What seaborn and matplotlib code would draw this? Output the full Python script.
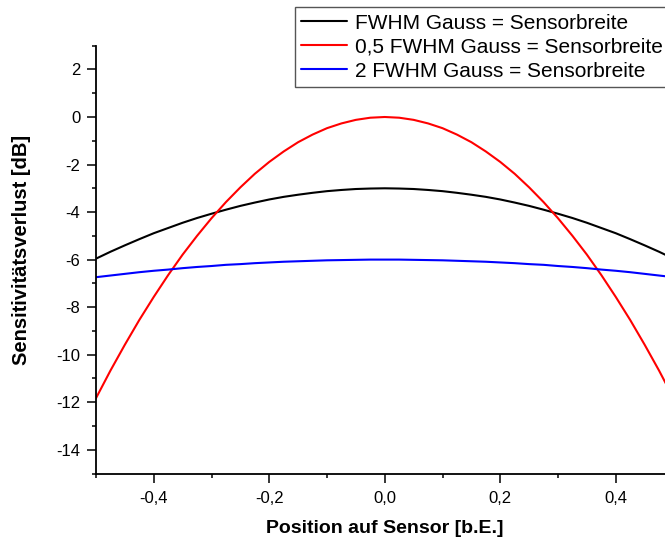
import numpy as np
import pandas as pd
import matplotlib
matplotlib.use("Agg")
import matplotlib.pyplot as plt
from matplotlib.ticker import FixedLocator, MultipleLocator
from matplotlib.lines import Line2D
import seaborn as sns

# ---- data ----
position = [-0.500, -0.475, -0.450, -0.425, -0.400, -0.375, -0.350, -0.325, -0.300, -0.275,
            -0.250, -0.225, -0.200, -0.175, -0.150, -0.125, -0.100, -0.075, -0.050, -0.025,
            0.000,
            0.025, 0.050, 0.075, 0.100, 0.125, 0.150, 0.175, 0.200, 0.225, 0.250,
            0.275, 0.300, 0.325, 0.350, 0.375, 0.400, 0.425, 0.450, 0.475, 0.500]
fwhm_1 = [-5.96, -5.67, -5.40, -5.14, -4.89, -4.67, -4.45, -4.25, -4.07, -3.90,
          -3.74, -3.60, -3.47, -3.36, -3.27, -3.19, -3.12, -3.07, -3.03, -3.01,
          -3.00,
          -3.01, -3.03, -3.07, -3.12, -3.19, -3.27, -3.36, -3.47, -3.60, -3.74,
          -3.90, -4.07, -4.25, -4.45, -4.67, -4.89, -5.14, -5.40, -5.67, -5.96]
fwhm_05 = [-11.83, -10.67, -9.58, -8.54, -7.57, -6.65, -5.79, -5.00, -4.26, -3.58,
           -2.96, -2.39, -1.89, -1.45, -1.06, -0.74, -0.47, -0.27, -0.12, -0.03,
           0.00,
           -0.03, -0.12, -0.27, -0.47, -0.74, -1.06, -1.45, -1.89, -2.39, -2.96,
           -3.58, -4.26, -5.00, -5.79, -6.65, -7.57, -8.54, -9.58, -10.67, -11.83]
fwhm_2 = [-6.74, -6.67, -6.60, -6.53, -6.47, -6.42, -6.36, -6.31, -6.27, -6.22,
          -6.19, -6.15, -6.12, -6.09, -6.07, -6.05, -6.03, -6.02, -6.01, -6.00,
          -6.00,
          -6.00, -6.01, -6.02, -6.03, -6.05, -6.07, -6.09, -6.12, -6.15, -6.19,
          -6.22, -6.27, -6.31, -6.36, -6.42, -6.47, -6.53, -6.60, -6.67, -6.74]
series_names = ["FWHM Gauss = Sensorbreite",
                "0,5 FWHM Gauss = Sensorbreite",
                "2 FWHM Gauss = Sensorbreite"]
series_colors = ["#000000", "#ff0000", "#0000ff"]

xticks = [-0.4, -0.2, 0.0, 0.2, 0.4]
xticklabels = ["-0,4", "-0,2", "0,0", "0,2", "0,4"]
yticks = [-14, -12, -10, -8, -6, -4, -2, 0, 2]
yticklabels = ["-14", "-12", "-10", "-8", "-6", "-4", "-2", "0", "2"]

xlabel = "Position auf Sensor [b.E.]"
ylabel = "Sensitivitätsverlust [dB]"

# ---- build long table ----
frames = []
for name, vals in zip(series_names, [fwhm_1, fwhm_05, fwhm_2]):
    frames.append(pd.DataFrame({"x": position, "y": vals, "series": name}))
df = pd.concat(frames, ignore_index=True)

sns.set_style("ticks")
plt.rcParams["font.family"] = ["Liberation Sans", "DejaVu Sans"]
plt.rcParams["axes.unicode_minus"] = False
plt.rcParams["text.color"] = "black"
plt.rcParams["axes.labelcolor"] = "black"
plt.rcParams["xtick.color"] = "black"
plt.rcParams["ytick.color"] = "black"

W, H = 665, 537
fig = plt.figure(figsize=(W / 100, H / 100), dpi=100)
left, right_px, top, bottom = 96, 96 + 577.5, 45.7, 473.5
ax = fig.add_axes([left / W, (H - bottom) / H, (right_px - left) / W, (bottom - top) / H])

sns.lineplot(data=df, x="x", y="y", hue="series", hue_order=series_names,
             palette=dict(zip(series_names, series_colors)), linewidth=1.5,
             ax=ax, legend=False, sort=True)

ax.set_xlim(-0.5, 0.5)
ax.set_ylim(-15, 3)
ax.xaxis.set_major_locator(FixedLocator(xticks))
ax.set_xticklabels(xticklabels)
ax.yaxis.set_major_locator(FixedLocator(yticks))
ax.set_yticklabels(yticklabels)
ax.xaxis.set_minor_locator(MultipleLocator(0.1))
ax.yaxis.set_minor_locator(MultipleLocator(1))

for s in ["top", "right"]:
    ax.spines[s].set_visible(False)
for s in ["left", "bottom"]:
    ax.spines[s].set_linewidth(1.3)
    ax.spines[s].set_color("black")

ax.tick_params(which="major", direction="out", length=6.3, width=1.1, colors="black",
               labelsize=12)
ax.tick_params(which="minor", direction="out", length=3.2, width=1.1, colors="black")
ax.tick_params(axis="x", which="major", pad=6)
ax.tick_params(axis="y", which="major", pad=5)

ax.set_xlabel(xlabel, fontsize=14, fontweight="bold", labelpad=10.5, color="black")
ax.set_ylabel(ylabel, fontsize=14.5, fontweight="bold", labelpad=18, color="black")
ax.yaxis.label.set_y(0.522)

handles = [Line2D([0], [0], color=c, lw=1.5) for c in series_colors]
leg = fig.legend(handles, series_names, loc="upper left",
                 bbox_to_anchor=(295 / W, 1 - 7.3 / H), bbox_transform=fig.transFigure,
                 fontsize=15, frameon=True, fancybox=False, borderaxespad=0,
                 borderpad=0.3, labelspacing=0.24, handlelength=2.2, handletextpad=0.36,
                 labelcolor="black")
leg.get_frame().set_edgecolor("#555555")
leg.get_frame().set_linewidth(1.0)
leg.get_frame().set_facecolor("white")
leg.get_frame().set_alpha(1)

fig.savefig("out.png", dpi=100)
